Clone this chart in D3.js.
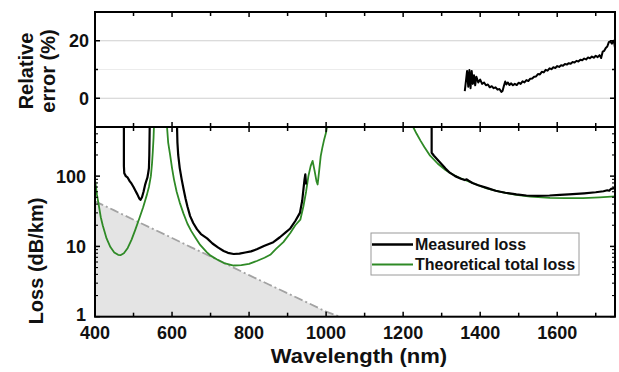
<!DOCTYPE html>
<html><head><meta charset="utf-8">
<script src="https://cdn.jsdelivr.net/npm/d3@7"></script>
<style>
html,body{margin:0;padding:0;background:#fff;}
svg{display:block;font-family:"Liberation Sans",Arial,sans-serif;font-weight:bold;}
</style></head>
<body>
<svg id="c" width="619" height="372"></svg>
<script>
// ---------- data ----------
const xTicks = [400, 600, 800, 1000, 1200, 1400, 1600];
const errTicks = [0, 20];
const lossTicks = [1, 10, 100];

// Relative error (%) vs wavelength (nm)
const errWl = [1360,1363,1366,1369,1372,1375,1378,1381,1384,1387,1390,1395,1400,1405,1410,1415,1420,1425,1430,1435,1440,1445,1450,1455,1458,1462,1465,1468,1472,1476,1480,1485,1490,1495,1500,1505,1510,1515,1520,1525,1530,1535,1540,1545,1550,1555,1560,1565,1570,1575,1580,1585,1590,1595,1600,1605,1610,1615,1620,1625,1630,1635,1640,1645,1650,1655,1660,1665,1670,1675,1680,1685,1690,1695,1700,1705,1710,1714,1718,1722,1726,1730,1734,1738,1742,1746,1748,1750];
const errVal = [2.5,6,9.5,4,9.8,3.5,9.5,5,8,4.5,7.5,5.5,6.5,5,5.5,4.5,4.8,3.8,4.2,3.5,3.8,3.0,3.2,2.2,2.5,4.5,5.8,4.8,5.5,4.6,5.2,4.5,5.0,4.6,5.4,5.0,5.9,5.5,6.3,6.0,6.8,6.9,7.5,7.6,8.4,8.3,9.2,9.0,9.9,9.6,10.4,10.1,10.8,10.5,11.2,10.9,11.5,11.3,11.9,11.7,12.2,12.0,12.6,12.4,13.0,12.8,13.4,13.2,13.8,13.5,14.2,13.9,14.5,14.1,14.8,14.3,15.0,14.0,16.2,16.5,17.5,18.0,19.5,19.8,19.0,20.0,19.2,17.5];

// Measured loss (dB/km), three segments
const measWl1 = [475,475,476,478,480,485,490,495,500,505,510,515,518,522,526,530,533,536,538,540,541,542];
const measVal1 = [500,140,110,105,100,95,85,78,70,62,55,48,46,50,60,75,85,95,110,130,200,500];
const measWl2 = [613,614,616,620,625,630,635,640,647,655,665,675,691,705,720,734,745,760,775,790,805,820,840,863,880,895,907,920,932,938,941,944,946,947,948];
const measVal2 = [500,300,200,130,90,65,48,37,27,21.5,17.5,15,13,11,9.6,8.6,8.1,7.8,7.9,8.2,8.5,9.1,10.2,11.5,13.5,15.8,18,23,30,45,64,90,106,90,76];
const measWl3 = [1274,1274,1280,1290,1300,1310,1321,1335,1350,1360,1365,1370,1380,1395,1417,1440,1465,1494,1520,1550,1580,1607,1630,1650,1670,1700,1720,1730,1735,1740,1745,1748,1750];
const measVal3 = [500,215,195,170,148,128,112,100,92,88,90,86,80,74,68,62,58,55,53,52.5,53,54,55,56,57,59,61,63,62,66,67,68,66];

// Theoretical total loss (dB/km), three segments
const theoWl1 = [400,405,410,415,420,430,440,450,460,466,475,485,495,505,515,525,535,540,545,548,550,552,553];
const theoVal1 = [89,55,38,26,20,13,9.8,8.2,7.6,7.5,8.0,9.5,12.5,17.5,25,36,55,70,100,150,220,350,500];
const theoWl2 = [587,590,595,600,605,612,620,630,640,650,660,673,690,700,717,735,760,780,800,820,840,855,870,889,907,920,933,941,948,954,960,965,970,975,978,982,986,990,995,1000,1002];
const theoVal2 = [500,300,200,130,90,60,42,29,21,16.5,13.5,10.5,8.3,7.4,6.5,5.8,5.35,5.4,5.65,6.2,6.9,7.6,9.2,11.5,15.5,20,24,37,60,100,140,165,120,85,76,120,193,250,333,420,500];
const theoWl3 = [1226,1235,1245,1255,1270,1290,1310,1321,1340,1365,1390,1417,1450,1494,1530,1581,1620,1667,1710,1750];
const theoVal3 = [500,400,320,260,195,150,122,112,98,86,76,67,60,54,51,49,48.5,48.8,50,51.5];

// Scattering loss (grey shaded, dash-dot)
const scatWl = [400,450,500,550,600,650,700,750,800,850,900,950,1000,1036];
const scatVal = [44,32.5,24,17.8,13.2,9.7,7.2,5.3,3.9,2.9,2.15,1.6,1.18,1.0];

const legendLabels = ["Measured loss", "Theoretical total loss"];

// ---------- layout ----------
const L = 95, R = 615, T1 = 12, B1 = 127, T2 = 127, B2 = 316.7;
const BLACK = "#000", GREEN = "#2f8a26";

const svg = d3.select("#c");
const x = d3.scaleLinear().domain([400, 1750]).range([L, R]);
const yE = d3.scaleLinear().domain([-10, 30]).range([B1, T1]);
const yL = d3.scaleLog().domain([1, 500]).range([B2, T2]);

const defs = svg.append("defs");
defs.append("clipPath").attr("id", "clipTop").append("rect").attr("x", L).attr("y", T1).attr("width", R - L).attr("height", B1 - T1);
defs.append("clipPath").attr("id", "clipBot").append("rect").attr("x", L).attr("y", T2).attr("width", R - L).attr("height", B2 - T2);

const zip = (a, b) => a.map((d, i) => [d, b[i]]);

// ---------- top panel ----------
const topG = svg.append("g");
[[0, "#cfcfcf"], [10, "#ececec"], [20, "#cfcfcf"]].forEach(([v, c]) => {
  topG.append("line").attr("x1", L).attr("x2", R).attr("y1", yE(v)).attr("y2", yE(v))
    .attr("stroke", c).attr("stroke-width", 1.2);
});
const lineE = d3.line().x(d => x(d[0])).y(d => yE(d[1]));
topG.append("path").attr("clip-path", "url(#clipTop)")
  .attr("d", lineE(zip(errWl, errVal)))
  .attr("fill", "none").attr("stroke", BLACK).attr("stroke-width", 2).attr("stroke-linejoin", "round");

// ---------- bottom panel ----------
const bot = svg.append("g").attr("clip-path", "url(#clipBot)");
const scat = zip(scatWl, scatVal);
bot.append("path")
  .attr("d", d3.area().x(d => x(d[0])).y0(yL(1)).y1(d => yL(d[1]))(scat))
  .attr("fill", "#e4e4e4");
bot.append("path")
  .attr("d", d3.line().x(d => x(d[0])).y(d => yL(d[1]))(scat))
  .attr("fill", "none").attr("stroke", "#a3a3a3").attr("stroke-width", 1.8)
  .attr("stroke-dasharray", "9,3,2,3");

const lineL = d3.line().x(d => x(d[0])).y(d => yL(Math.min(d[1], 600)));
[[theoWl1, theoVal1], [theoWl2, theoVal2], [theoWl3, theoVal3]].forEach(([w, v]) => {
  bot.append("path").attr("d", lineL(zip(w, v)))
    .attr("fill", "none").attr("stroke", GREEN).attr("stroke-width", 1.8).attr("stroke-linejoin", "round");
});
[[measWl1, measVal1], [measWl2, measVal2], [measWl3, measVal3]].forEach(([w, v]) => {
  bot.append("path").attr("d", lineL(zip(w, v)))
    .attr("fill", "none").attr("stroke", BLACK).attr("stroke-width", 2.2).attr("stroke-linejoin", "round");
});

// ---------- axes & frames ----------
const axG = svg.append("g");
const minorX = d3.range(400, 1751, 100);
function xTicksAt(y, dir) {
  minorX.forEach(v => {
    const len = (v % 200 === 0) ? 5 : 4;
    axG.append("line").attr("x1", x(v)).attr("x2", x(v)).attr("y1", y).attr("y2", y + dir * len)
      .attr("stroke", "#000").attr("stroke-width", 1.5);
  });
}
xTicksAt(T1, 1);
xTicksAt(B1, -1);
xTicksAt(T2, 1);
xTicksAt(B2, -1);

// top panel y ticks
[0, 10, 20].forEach(v => {
  const len = errTicks.includes(v) ? 5 : 3;
  axG.append("line").attr("x1", L).attr("x2", L + len).attr("y1", yE(v)).attr("y2", yE(v)).attr("stroke", "#000").attr("stroke-width", 1.5);
  axG.append("line").attr("x1", R).attr("x2", R - len).attr("y1", yE(v)).attr("y2", yE(v)).attr("stroke", "#000").attr("stroke-width", 1.5);
});
// bottom panel log ticks
const logTicks = [];
[1, 10, 100].forEach(d => { for (let k = 1; k <= 9; k++) { const v = d * k; if (v <= 500) logTicks.push(v); } });
logTicks.forEach(v => {
  const major = lossTicks.includes(v);
  const len = major ? 5 : 3;
  axG.append("line").attr("x1", L).attr("x2", L + len).attr("y1", yL(v)).attr("y2", yL(v)).attr("stroke", "#000").attr("stroke-width", major ? 1.5 : 1.1);
  axG.append("line").attr("x1", R).attr("x2", R - len).attr("y1", yL(v)).attr("y2", yL(v)).attr("stroke", "#000").attr("stroke-width", major ? 1.5 : 1.1);
});

axG.append("rect").attr("x", L).attr("y", T1).attr("width", R - L).attr("height", B1 - T1)
  .attr("fill", "none").attr("stroke", "#000").attr("stroke-width", 2);
axG.append("rect").attr("x", L).attr("y", T2).attr("width", R - L).attr("height", B2 - T2)
  .attr("fill", "none").attr("stroke", "#000").attr("stroke-width", 2);

// ---------- labels ----------
const txt = svg.append("g").attr("fill", "#111");
errTicks.forEach(v => {
  txt.append("text").attr("x", 89).attr("y", yE(v)).attr("dy", "0.36em")
    .attr("text-anchor", "end").attr("font-size", 18).text(v);
});
lossTicks.forEach(v => {
  txt.append("text").attr("x", 86).attr("y", yL(v) - (v === 1 ? 2.5 : 0)).attr("dy", "0.36em")
    .attr("text-anchor", "end").attr("font-size", 18).text(v);
});
xTicks.forEach(v => {
  txt.append("text").attr("x", x(v)).attr("y", 339)
    .attr("text-anchor", "middle").attr("font-size", 18).text(v);
});
txt.append("text").attr("transform", "translate(359,363) scale(1.1,1)")
  .attr("text-anchor", "middle").attr("font-size", 20).text("Wavelength (nm)");
txt.append("text").attr("transform", "translate(43,261) rotate(-90)")
  .attr("text-anchor", "middle").attr("font-size", 20).text("Loss (dB/km)");
txt.append("text").attr("transform", "translate(33,71) rotate(-90)")
  .attr("text-anchor", "middle").attr("font-size", 20).text("Relative");
txt.append("text").attr("transform", "translate(55,71) rotate(-90)")
  .attr("text-anchor", "middle").attr("font-size", 20).text("error (%)");

// ---------- legend ----------
const lg = svg.append("g");
lg.append("rect").attr("x", 371).attr("y", 233).attr("width", 208).attr("height", 42)
  .attr("fill", "#fff").attr("stroke", "#9a9a9a").attr("stroke-width", 1);
[[BLACK, 2.6, 244.5], [GREEN, 2, 264.5]].forEach(([c, w, yy], i) => {
  lg.append("line").attr("x1", 372).attr("x2", 413).attr("y1", yy).attr("y2", yy).attr("stroke", c).attr("stroke-width", w);
  lg.append("text").attr("x", 415).attr("y", yy + 5.8).attr("font-size", 16).attr("fill", "#111").text(legendLabels[i]);
});
</script>
</body></html>
